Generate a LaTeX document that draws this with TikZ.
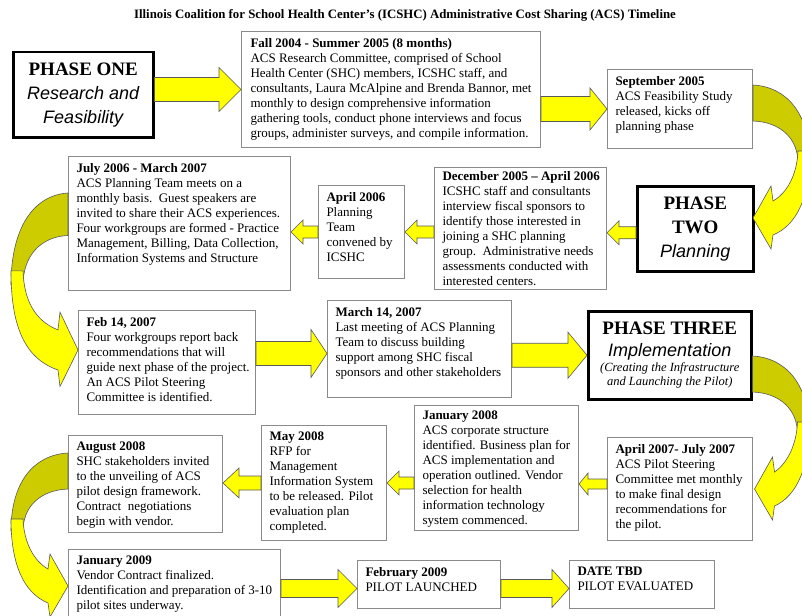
\documentclass[tikz,border=0pt]{standalone}
\usepackage{fontspec}
\setmainfont{Liberation Serif}
\setsansfont{Liberation Sans}
\usetikzlibrary{calc}

\definecolor{arrowyellow}{HTML}{FFFF00}
\definecolor{arrowolive}{HTML}{CCCC00}
\definecolor{boxgray}{HTML}{8A8A8A}

% straight block arrow: start, end, shaft half, head half, head length
\newcommand{\blockarrow}[5]{%
  \filldraw[barrow] let \p1=#1, \p2=#2, \n1={sign(\x2-\x1)} in
    (\x1,\y1+#3) -- ({\x2-(\n1)*#5},\y1+#3) -- ({\x2-(\n1)*#5},\y1+#4) -- (\x2,\y1)
    -- ({\x2-(\n1)*#5},\y1-#4) -- ({\x2-(\n1)*#5},\y1-#3) -- (\x1,\y1-#3) -- cycle;}

% bent arrow round a corner: origin, x direction, y scale, tip inset
\newcommand{\bendarrow}[4]{%
  \begin{scope}[shift={#1}, xscale=#2, yscale=#3]
    \filldraw[bendback] (0,0) .. controls (35,2) and (57,30) .. (57,78)
      -- (45,78) .. controls (45,54) and (28,37) .. (0,36) -- cycle;
    \filldraw[bendfront] (57,66) .. controls (57,112) and (44,140) .. (20-#4,150)
      -- (18-#4,164) -- (-#4,133) -- (18-#4,101) -- (20-#4,116)
      .. controls (34,108) and (44,90) .. (45,66) -- cycle;
  \end{scope}}

\begin{document}
\begin{tikzpicture}[x=1pt, y=-1pt,
  event/.style={draw=boxgray, line width=1pt, fill=white, anchor=north west,
    inner xsep=0pt, inner ysep=6.5pt, font=\fontsize{13}{15}\selectfont},
  phase/.style={draw=black, line width=2.5pt, fill=white, anchor=north west,
    align=center, inner sep=0pt, font=\fontsize{18}{24}\selectfont},
  barrow/.style={fill=arrowyellow, draw=black!65, line width=0.6pt},
  bendback/.style={fill=arrowolive, draw=black!65, line width=0.6pt},
  bendfront/.style={fill=arrowyellow, draw=black!65, line width=0.6pt}]

\path[use as bounding box, fill=white] (0,0) rectangle (802,615);

\node (title) at (405,15) {\fontsize{12.8}{14}\selectfont\bfseries Illinois Coalition for School Health Center's (ICSHC) Administrative Cost Sharing (ACS) Timeline};

% phase one
\node[phase, minimum width=140, minimum height=85] (one) at (12,51)
  {{\fontsize{19}{24}\selectfont\bfseries PHASE ONE}\\
   {\sffamily\itshape Research and}\\
   {\sffamily\itshape Feasibility}};
\node[event] (fall) at (241,31) {\parbox[t][103pt][t]{299pt}{\leftskip=9pt
  \textbf{Fall 2004 - Summer 2005 (8 months)}\\
  ACS Research Committee, comprised of School\\
  Health Center (SHC) members, ICSHC staff, and\\
  consultants, Laura McAlpine and Brenda Bannor, met\\
  monthly to design comprehensive information\\
  gathering tools, conduct phone interviews and focus\\
  groups, administer surveys, and compile information.}};
\node[event] (sep05) at (607,69) {\parbox[t][66pt][t]{145pt}{\leftskip=8pt
  \textbf{September 2005}\\
  ACS Feasibility Study\\
  released, kicks off\\
  planning phase}};

% phase two
\node[phase, minimum width=116, minimum height=85] (two) at (636,185)
  {{\fontsize{19}{23}\selectfont\bfseries PHASE}\\
   {\fontsize{19}{23}\selectfont\bfseries TWO}\\
   {\sffamily\itshape Planning}};
\node[event, inner ysep=4pt] (dec05) at (434,167) {\parbox[t][114pt][t]{172pt}{\leftskip=8pt
  \textbf{December 2005 -- April 2006}\\
  ICSHC staff and consultants\\
  interview fiscal sponsors to\\
  identify those interested in\\
  joining a SHC planning\\
  group.\ \ Administrative needs\\
  assessments conducted with\\
  interested centers.}};
\node[event] (apr06) at (318,185) {\parbox[t][80pt][t]{86pt}{\leftskip=8pt
  \textbf{April 2006}\\
  Planning\\
  Team\\
  convened by\\
  ICSHC}};
\node[event] (jul06) at (68,156) {\parbox[t][121pt][t]{222pt}{\leftskip=8pt
  \textbf{July 2006 - March 2007}\\
  ACS Planning Team meets on a\\
  monthly basis.\ \ Guest speakers are\\
  invited to share their ACS experiences.\\
  Four workgroups are formed - Practice\\
  Management, Billing, Data Collection,\\
  Information Systems and Structure}};
\node[event] (feb07) at (78,310) {\parbox[t][91pt][t]{177pt}{\leftskip=8pt
  \textbf{Feb 14, 2007}\\
  Four workgroups report back\\
  recommendations that will\\
  guide next phase of the project.\\
  An ACS Pilot Steering\\
  Committee is identified.}};
\node[event] (mar07) at (327,300) {\parbox[t][84pt][t]{184pt}{\leftskip=8pt
  \textbf{March 14, 2007}\\
  Last meeting of ACS Planning\\
  Team to discuss building\\
  support among SHC fiscal\\
  sponsors and other stakeholders}};

% phase three
\node[phase, minimum width=163, minimum height=88] (three) at (587,310)
  {{\fontsize{19}{23}\selectfont\bfseries PHASE THREE}\\[-2pt]
   {\sffamily\itshape Implementation}\\[-9pt]
   {\fontsize{12.5}{14}\selectfont\itshape (Creating the Infrastructure}\\[-10pt]
   {\fontsize{12.5}{14}\selectfont\itshape and Launching the Pilot)}};
\node[event] (apr07) at (607,437) {\parbox[t][90pt][t]{145pt}{\leftskip=8pt
  \textbf{April 2007- July 2007}\\
  ACS Pilot Steering\\
  Committee met monthly\\
  to make final design\\
  recommendations for\\
  the pilot.}};
\node[event, inner ysep=5pt] (jan08) at (414,405) {\parbox[t][115pt][t]{164pt}{\leftskip=8pt
  \textbf{January 2008}\\
  ACS corporate structure\\
  identified. Business plan for\\
  ACS implementation and\\
  operation outlined. Vendor\\
  selection for health\\
  information technology\\
  system commenced.}};
\node[event] (may08) at (261,425) {\parbox[t][102pt][t]{125pt}{\leftskip=8pt
  \textbf{May 2008}\\
  RFP for\\
  Management\\
  Information System\\
  to be released. Pilot\\
  evaluation plan\\
  completed.}};
\node[event] (aug08) at (68,435) {\parbox[t][84pt][t]{154pt}{\leftskip=8pt
  \textbf{August 2008}\\
  SHC stakeholders invited\\
  to the unveiling of ACS\\
  pilot design framework.\\
  Contract\ \ negotiations\\
  begin with vendor.}};
\node[event] (jan09) at (68,549) {\parbox[t][59pt][t]{212pt}{\leftskip=8pt
  \textbf{January 2009}\\
  Vendor Contract finalized.\\
  Identification and preparation of 3-10\\
  pilot sites underway.}};
\node[event] (feb09) at (357,560) {\parbox[t][35pt][t]{143pt}{\leftskip=8pt
  \textbf{February 2009}\\
  PILOT LAUNCHED}};
\node[event] (tbd) at (569,560) {\parbox[t][35pt][t]{145pt}{\leftskip=8pt
  \textbf{DATE TBD}\\
  PILOT EVALUATED}};

% arrows
\blockarrow{(fall.west -| one.east)}{(fall.west)}{12pt}{22pt}{22pt}
\blockarrow{(sep05.west -| fall.east)}{(sep05.west)}{12.5pt}{21pt}{17pt}
\bendarrow{($(sep05.north east)+(0,16)$)}{1}{1}{0}
\blockarrow{($(two.west)+(0,4)$)}{(dec05.east)}{6pt}{12pt}{12pt}
\blockarrow{(dec05.west |- apr06.east)}{(apr06.east)}{6pt}{12pt}{12pt}
\blockarrow{(apr06.west)}{(jul06.east)}{6pt}{12pt}{12pt}
\bendarrow{($(jul06.north west)+(0,37)$)}{-1}{1.18}{10}
\blockarrow{($(feb07.east)+(0,-9)$)}{(mar07.west)}{12pt}{24pt}{16pt}
\blockarrow{(three.west -| mar07.east)}{(three.west)}{12pt}{23pt}{19pt}
\bendarrow{($(three.north east)+(0,46)$)}{1}{1}{-2}
\blockarrow{($(apr07.west)+(0,-5)$)}{(jan08.east)}{5pt}{11pt}{9pt}
\blockarrow{(may08.east -| jan08.west)}{(may08.east)}{6pt}{12pt}{12pt}
\blockarrow{(may08.west)}{(aug08.east)}{7pt}{15pt}{16pt}
\bendarrow{($(aug08.north west)+(0,18)$)}{-1}{1}{0}
\blockarrow{($(feb09.west -| jan09.east)+(0,4)$)}{(feb09.west)}{9pt}{19pt}{19pt}
\blockarrow{($(feb09.east)+(0,4)$)}{(tbd.west)}{9pt}{19pt}{17pt}
\end{tikzpicture}
\end{document}
